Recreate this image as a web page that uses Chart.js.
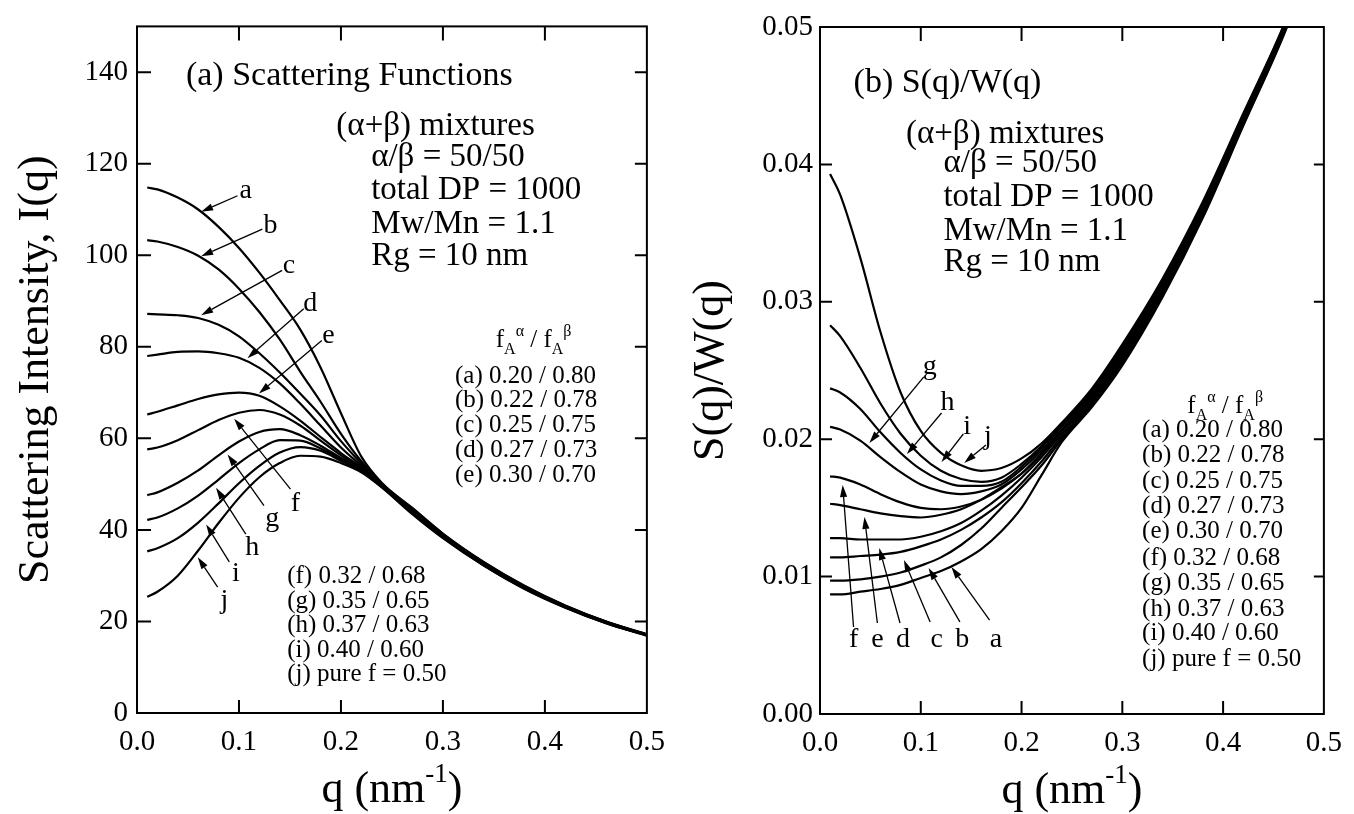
<!DOCTYPE html>
<html>
<head>
<meta charset="utf-8">
<script src="https://cdn.jsdelivr.net/npm/chart.js@4.4.1/dist/chart.umd.min.js"></script>
<style>
  html, body { margin: 0; padding: 0; background: #fff; }
  #wrap { position: relative; width: 1354px; height: 814px; }
  .panel { position: absolute; top: 0; width: 677px; height: 814px; }
</style>
</head>
<body>
<div id="wrap">
  <div class="panel" style="left:0"><canvas id="chartA"></canvas></div>
  <div class="panel" style="left:677px"><canvas id="chartB"></canvas></div>
</div>
<script>
// q grid shared by every curve (nm^-1)
const qValues = [0.01, 0.02, 0.04, 0.06, 0.08, 0.10, 0.12, 0.14, 0.16, 0.18, 0.20, 0.22, 0.24, 0.27, 0.30, 0.34, 0.38, 0.42, 0.46, 0.50];
const curveNames = ['a', 'b', 'c', 'd', 'e', 'f', 'g', 'h', 'i', 'j'];

// (a) scattering intensity I(q)
const iqA = [114.8, 114.4, 112.6, 110.0, 106.2, 101.6, 96.2, 90.2, 83.8, 75.5, 65.5, 56.0, 50.3, 44.8, 39.2, 33.0, 27.8, 23.5, 20.0, 17.2];
const iqB = [103.3, 103.0, 101.8, 99.9, 96.9, 92.7, 87.6, 81.6, 74.6, 68.0, 61.0, 55.0, 50.1, 44.65, 39.09, 32.91, 27.72, 23.44, 19.96, 17.17];
const iqC = [87.2, 87.1, 86.9, 86.3, 84.8, 82.3, 78.6, 74.4, 69.8, 65.0, 59.4, 54.5, 50.0, 44.5, 38.98, 32.82, 27.64, 23.39, 19.91, 17.13];
const iqD = [78.0, 78.3, 78.9, 79.0, 78.6, 77.6, 75.4, 72.0, 67.6, 62.8, 58.0, 54.0, 49.9, 44.35, 38.87, 32.73, 27.57, 23.33, 19.87, 17.1];
const iqE = [65.2, 65.8, 67.2, 68.6, 69.6, 70.0, 69.3, 67.0, 63.9, 60.3, 56.8, 53.6, 49.8, 44.2, 38.76, 32.64, 27.49, 23.28, 19.82, 17.07];
const iqF = [57.6, 58.0, 59.6, 61.8, 64.0, 65.6, 66.2, 65.2, 62.8, 59.5, 56.3, 53.4, 49.7, 44.05, 38.65, 32.55, 27.41, 23.22, 19.78, 17.03];
const iqG = [47.6, 48.2, 50.3, 53.0, 56.3, 59.3, 61.4, 62.0, 60.7, 58.4, 55.7, 53.2, 49.6, 43.9, 38.54, 32.46, 27.33, 23.17, 19.73, 17.0];
const iqH = [42.2, 42.7, 44.7, 47.5, 51.0, 54.6, 57.6, 59.6, 59.5, 57.8, 55.4, 53.0, 49.5, 43.75, 38.43, 32.37, 27.26, 23.11, 19.69, 16.97];
const iqI = [35.3, 36.0, 38.2, 41.6, 45.8, 50.2, 54.0, 56.9, 58.1, 57.3, 55.1, 52.8, 49.4, 43.6, 38.32, 32.28, 27.18, 23.06, 19.64, 16.93];
const iqJ = [25.4, 26.5, 30.0, 35.5, 41.5, 47.0, 51.5, 54.6, 56.2, 56.0, 54.6, 52.6, 49.3, 43.45, 38.2, 32.2, 27.1, 23.0, 19.6, 16.9];

// (b) S(q)/W(q)
const swA = [0.0087, 0.0087, 0.0089, 0.0091, 0.0094, 0.0099, 0.0104, 0.0111, 0.0120, 0.0133, 0.0150, 0.0174, 0.0198, 0.02235, 0.02537, 0.03035, 0.03613, 0.0428, 0.04938, 0.0570];
const swB = [0.0097, 0.0097, 0.0098, 0.0100, 0.0103, 0.0108, 0.0114, 0.0123, 0.0135, 0.0150, 0.0165, 0.0181, 0.0200, 0.0225, 0.02554, 0.0305, 0.03626, 0.0429, 0.04946, 0.0571];
const swC = [0.0114, 0.0114, 0.0115, 0.0116, 0.0118, 0.0122, 0.0127, 0.0134, 0.0143, 0.0154, 0.0168, 0.0184, 0.0202, 0.02265, 0.02571, 0.03065, 0.03639, 0.0430, 0.04954, 0.0572];
const swD = [0.0128, 0.0128, 0.0127, 0.0127, 0.0127, 0.0129, 0.0133, 0.0139, 0.0148, 0.0159, 0.0172, 0.0187, 0.0204, 0.0228, 0.02588, 0.0308, 0.03652, 0.0431, 0.04962, 0.0573];
const swE = [0.0153, 0.0152, 0.0149, 0.0146, 0.0144, 0.0143, 0.0145, 0.0149, 0.0156, 0.0165, 0.0175, 0.0189, 0.0206, 0.02295, 0.02605, 0.03095, 0.03665, 0.0432, 0.0497, 0.0574];
const swF = [0.0173, 0.0172, 0.0167, 0.0160, 0.0154, 0.0150, 0.0149, 0.0151, 0.0156, 0.0164, 0.0175, 0.0190, 0.0207, 0.0231, 0.02622, 0.0311, 0.03678, 0.0433, 0.04978, 0.0575];
const swG = [0.0209, 0.0207, 0.0199, 0.0187, 0.0176, 0.0167, 0.0162, 0.0160, 0.0162, 0.0167, 0.0178, 0.0192, 0.0209, 0.02325, 0.02639, 0.03125, 0.03691, 0.0434, 0.04986, 0.0576];
const swH = [0.0237, 0.0234, 0.0222, 0.0205, 0.0190, 0.0178, 0.0170, 0.0166, 0.0166, 0.0169, 0.0180, 0.0194, 0.0210, 0.0234, 0.02656, 0.0314, 0.03704, 0.0435, 0.04994, 0.0577];
const swI = [0.0283, 0.0275, 0.0252, 0.0226, 0.0204, 0.0188, 0.0177, 0.0171, 0.0169, 0.0172, 0.0182, 0.0195, 0.0211, 0.02355, 0.02673, 0.03155, 0.03717, 0.0436, 0.05002, 0.0578];
const swJ = [0.0393, 0.0378, 0.0332, 0.0278, 0.0234, 0.0206, 0.0190, 0.0181, 0.0177, 0.0179, 0.0186, 0.0197, 0.0212, 0.0237, 0.0269, 0.0317, 0.0373, 0.0437, 0.0501, 0.0579];

const infoLines = ['(α+β) mixtures', 'α/β = 50/50', 'total DP = 1000', 'Mw/Mn = 1.1', 'Rg = 10 nm'];
const mixLabels = ['(a) 0.20 / 0.80', '(b) 0.22 / 0.78', '(c) 0.25 / 0.75', '(d) 0.27 / 0.73', '(e) 0.30 / 0.70',
  '(f) 0.32 / 0.68', '(g) 0.35 / 0.65', '(h) 0.37 / 0.63', '(i) 0.40 / 0.60', '(j) pure f = 0.50'];

const SERIF = '"Liberation Serif", "Times New Roman", Times, serif';
const fracHeader = [{ t: 'f' }, { t: 'A', sub: true }, { t: 'α', sup: true }, { t: ' / f' }, { t: 'A', sub: true }, { t: 'β', sup: true }];
const qTitle = [{ t: 'q (nm' }, { t: '-1', sup: true }, { t: ')' }];

function fontFor(p, size) {
  return `${(p.sub || p.sup) ? Math.round(size * 0.62) : size}px ${SERIF}`;
}

function richWidth(ctx, parts, size) {
  let w = 0;
  parts.forEach((p) => { ctx.font = fontFor(p, size); w += ctx.measureText(p.t).width; });
  return w;
}

function drawRich(ctx, parts, x, y, size, align) {
  let cx = align === 'center' ? x - richWidth(ctx, parts, size) / 2 : x;
  ctx.textAlign = 'left';
  ctx.textBaseline = 'alphabetic';
  parts.forEach((p) => {
    ctx.font = fontFor(p, size);
    let dy = 0;
    if (p.sub) dy = size * 0.28;
    if (p.sup) dy = -size * 0.45;
    ctx.fillText(p.t, cx, y + dy);
    cx += ctx.measureText(p.t).width;
  });
}

function drawArrow(ctx, x1, y1, x2, y2) {
  const ang = Math.atan2(y2 - y1, x2 - x1);
  const len = 12;
  const half = 3.6;
  const bx = x2 - len * Math.cos(ang);
  const by = y2 - len * Math.sin(ang);
  ctx.beginPath();
  ctx.moveTo(x1, y1);
  ctx.lineTo(bx, by);
  ctx.stroke();
  ctx.beginPath();
  ctx.moveTo(x2, y2);
  ctx.lineTo(bx + half * Math.sin(ang), by - half * Math.cos(ang));
  ctx.lineTo(bx - half * Math.sin(ang), by + half * Math.cos(ang));
  ctx.closePath();
  ctx.fill();
}

// box round the plot with inward tick marks on all four sides
const frameTicks = {
  id: 'frameTicks',
  afterDatasetsDraw(chart, args, opts) {
    const { ctx, chartArea: area, scales: { x, y } } = chart;
    ctx.save();
    ctx.strokeStyle = '#000';
    ctx.lineWidth = 2;
    ctx.strokeRect(area.left, area.top, area.right - area.left, area.bottom - area.top);
    ctx.beginPath();
    x.ticks.forEach((t) => {
      const p = x.getPixelForValue(t.value);
      if (p <= area.left + 2 || p >= area.right - 2) return;
      ctx.moveTo(p, area.bottom);
      ctx.lineTo(p, area.bottom - opts.bottom);
      ctx.moveTo(p, area.top);
      ctx.lineTo(p, area.top + opts.top);
    });
    y.ticks.forEach((t) => {
      const p = y.getPixelForValue(t.value);
      if (p <= area.top + 2 || p >= area.bottom - 2) return;
      ctx.moveTo(area.left, p);
      ctx.lineTo(area.left + opts.left, p);
      ctx.moveTo(area.right, p);
      ctx.lineTo(area.right - opts.right, p);
    });
    ctx.stroke();
    ctx.restore();
  }
};

// texts, curve letters with arrows, axis titles
const notes = {
  id: 'notes',
  afterDraw(chart, args, opts) {
    const { ctx, chartArea: area, scales: { x, y } } = chart;
    const at = (q, v) => [x.getPixelForValue(q), y.getPixelForValue(v)];
    ctx.save();
    ctx.fillStyle = '#000';
    ctx.strokeStyle = '#000';

    opts.texts.forEach((t) => {
      const [tx, ty] = at(t.q, t.v);
      drawRich(ctx, typeof t.text === 'string' ? [{ t: t.text }] : t.text, tx, ty, t.size, t.align);
    });

    ctx.lineWidth = 1.3;
    opts.arrows.forEach((a) => {
      const [x1, y1] = at(a.from[0], a.from[1]);
      const [x2, y2] = at(a.to[0], a.to[1]);
      drawArrow(ctx, x1, y1, x2, y2);
      const [lx, ly] = at(a.label[0], a.label[1]);
      ctx.font = `28px ${SERIF}`;
      ctx.textAlign = 'center';
      ctx.textBaseline = 'middle';
      ctx.fillText(a.name, lx, ly);
    });

    drawRich(ctx, qTitle, (area.left + area.right) / 2, area.bottom + 89, 44, 'center');

    ctx.translate(opts.yTitleX, (area.top + area.bottom) / 2);
    ctx.rotate(-Math.PI / 2);
    ctx.font = `44px ${SERIF}`;
    ctx.textAlign = 'center';
    ctx.textBaseline = 'middle';
    ctx.fillText(opts.yTitle, 0, 0);
    ctx.restore();
  }
};

function buildSets(curves) {
  return curves.map((vals, k) => ({
    label: curveNames[k],
    data: vals.map((v, n) => ({ x: qValues[n], y: v })),
    borderColor: '#000',
    borderWidth: 2.2,
    pointRadius: 0,
    fill: false,
    cubicInterpolationMode: 'monotone',
    clip: 0
  }));
}

function panelOptions(cfg) {
  const tickFont = { family: SERIF, size: 29 };
  return {
    responsive: true,
    maintainAspectRatio: false,
    animation: false,
    events: [],
    layout: { padding: { left: 0, right: cfg.padRight, top: cfg.padTop, bottom: 0 } },
    plugins: {
      legend: { display: false },
      tooltip: { enabled: false },
      frameTicks: cfg.ticks,
      notes: cfg.notes
    },
    scales: {
      x: {
        type: 'linear',
        min: 0,
        max: 0.5,
        afterFit: (s) => { s.height = cfg.xHeight; },
        grid: { display: false, drawTicks: false },
        border: { display: false },
        ticks: {
          stepSize: 0.1,
          includeBounds: false,
          autoSkip: false,
          maxRotation: 0,
          padding: 12,
          color: '#000',
          font: tickFont,
          callback: (v) => v.toFixed(1)
        }
      },
      y: {
        type: 'linear',
        min: 0,
        max: cfg.yMax,
        afterFit: (s) => { s.width = cfg.yWidth; },
        grid: { display: false, drawTicks: false },
        border: { display: false },
        ticks: {
          stepSize: cfg.yStep,
          includeBounds: false,
          autoSkip: false,
          padding: cfg.yPad,
          color: '#000',
          font: tickFont,
          callback: cfg.yFormat
        }
      }
    }
  };
}

const leftNotes = {
  yTitle: 'Scattering Intensity, I(q)',
  yTitleX: 36,
  texts: [
    { text: '(a) Scattering Functions', q: 0.048, v: 137.2, size: 34 },
    { text: infoLines[0], q: 0.1955, v: 126.3, size: 33 },
    { text: infoLines[1], q: 0.2296, v: 119.6, size: 33 },
    { text: infoLines[2], q: 0.2296, v: 112.2, size: 33 },
    { text: infoLines[3], q: 0.2296, v: 104.8, size: 33 },
    { text: infoLines[4], q: 0.2296, v: 97.8, size: 33 },
    { text: fracHeader, q: 0.3518, v: 80, size: 25 },
    { text: mixLabels[0], q: 0.3118, v: 72.0, size: 25 },
    { text: mixLabels[1], q: 0.3118, v: 66.8, size: 25 },
    { text: mixLabels[2], q: 0.3118, v: 61.3, size: 25 },
    { text: mixLabels[3], q: 0.3118, v: 55.9, size: 25 },
    { text: mixLabels[4], q: 0.3118, v: 50.4, size: 25 },
    { text: mixLabels[5], q: 0.1473, v: 28.3, size: 25 },
    { text: mixLabels[6], q: 0.1473, v: 23.0, size: 25 },
    { text: mixLabels[7], q: 0.1473, v: 17.6, size: 25 },
    { text: mixLabels[8], q: 0.1473, v: 12.2, size: 25 },
    { text: mixLabels[9], q: 0.1473, v: 7.0, size: 25 }
  ],
  arrows: [
    { name: 'a', label: [0.1067, 114.1], from: [0.0986, 113.0], to: [0.0629, 109.5] },
    { name: 'b', label: [0.1310, 106.5], from: [0.1229, 105.7], to: [0.0629, 99.8] },
    { name: 'c', label: [0.1489, 97.8], from: [0.1423, 96.7], to: [0.0629, 86.9] },
    { name: 'd', label: [0.1700, 89.4], from: [0.1635, 88.3], to: [0.1083, 77.5] },
    { name: 'e', label: [0.1877, 82.5], from: [0.1812, 81.4], to: [0.1196, 69.8] },
    { name: 'f', label: [0.1553, 45.7], from: [0.1505, 48.9], to: [0.0953, 64.3] },
    { name: 'g', label: [0.1326, 42.4], from: [0.1245, 45.3], to: [0.0888, 56.5] },
    { name: 'h', label: [0.1131, 36.2], from: [0.1067, 39.1], to: [0.0775, 49.2] },
    { name: 'i', label: [0.0970, 30.4], from: [0.0905, 33.0], to: [0.0678, 41.2] },
    { name: 'j', label: [0.0856, 24.6], from: [0.0791, 27.5], to: [0.0596, 34.0] }
  ]
};

const rightNotes = {
  yTitle: 'S(q)/W(q)',
  yTitleX: 34,
  texts: [
    { text: '(b) S(q)/W(q)', q: 0.0333, v: 0.04527, size: 34 },
    { text: infoLines[0], q: 0.0853, v: 0.04156, size: 33 },
    { text: infoLines[1], q: 0.1225, v: 0.03945, size: 33 },
    { text: infoLines[2], q: 0.1225, v: 0.03697, size: 33 },
    { text: infoLines[3], q: 0.1225, v: 0.03450, size: 33 },
    { text: infoLines[4], q: 0.1225, v: 0.03224, size: 33 },
    { text: fracHeader, q: 0.3645, v: 0.0219, size: 25 },
    { text: mixLabels[0], q: 0.3196, v: 0.02016, size: 25 },
    { text: mixLabels[1], q: 0.3196, v: 0.01834, size: 25 },
    { text: mixLabels[2], q: 0.3196, v: 0.01645, size: 25 },
    { text: mixLabels[3], q: 0.3196, v: 0.01463, size: 25 },
    { text: mixLabels[4], q: 0.3196, v: 0.01281, size: 25 },
    { text: mixLabels[5], q: 0.3196, v: 0.01084, size: 25 },
    { text: mixLabels[6], q: 0.3196, v: 0.00902, size: 25 },
    { text: mixLabels[7], q: 0.3196, v: 0.00713, size: 25 },
    { text: mixLabels[8], q: 0.3196, v: 0.00539, size: 25 },
    { text: mixLabels[9], q: 0.3196, v: 0.00349, size: 25 }
  ],
  arrows: [
    { name: 'g', label: [0.1088, 0.02525], from: [0.1030, 0.02453], to: [0.0490, 0.01972] },
    { name: 'h', label: [0.1265, 0.02263], from: [0.1206, 0.02191], to: [0.0863, 0.01892] },
    { name: 'i', label: [0.1460, 0.02089], from: [0.1422, 0.02038], to: [0.1206, 0.01834] },
    { name: 'j', label: [0.1667, 0.02016], from: [0.1647, 0.01958], to: [0.1431, 0.01827] },
    { name: 'f', label: [0.0333, 0.00539], from: [0.0333, 0.00633], to: [0.0225, 0.01667] },
    { name: 'e', label: [0.0569, 0.00539], from: [0.0569, 0.00662], to: [0.0441, 0.01434] },
    { name: 'd', label: [0.0824, 0.00539], from: [0.0794, 0.00662], to: [0.0588, 0.01208] },
    { name: 'c', label: [0.1157, 0.00539], from: [0.1093, 0.00670], to: [0.0833, 0.01121] },
    { name: 'b', label: [0.1412, 0.00539], from: [0.1388, 0.00670], to: [0.1078, 0.01063] },
    { name: 'a', label: [0.1745, 0.00539], from: [0.1683, 0.00684], to: [0.1304, 0.01070] }
  ]
};

// eslint-disable-next-line no-new
new Chart(document.getElementById('chartA'), {
  type: 'line',
  data: { datasets: buildSets([iqA, iqB, iqC, iqD, iqE, iqF, iqG, iqH, iqI, iqJ]) },
  options: panelOptions({
    padRight: 26,
    padTop: 23,
    xHeight: 101,
    yWidth: 137,
    yMax: 150,
    yStep: 20,
    yPad: 9,
    yFormat: (v) => String(Math.round(v)),
    ticks: { left: 14, right: 12, top: 14, bottom: 13 },
    notes: leftNotes
  }),
  plugins: [frameTicks, notes]
});

// eslint-disable-next-line no-new
new Chart(document.getElementById('chartB'), {
  type: 'line',
  data: { datasets: buildSets([swA, swB, swC, swD, swE, swF, swG, swH, swI, swJ]) },
  options: panelOptions({
    padRight: 24,
    padTop: 27,
    xHeight: 100,
    yWidth: 143,
    yMax: 0.05,
    yStep: 0.01,
    yPad: 7,
    yFormat: (v) => v.toFixed(2),
    ticks: { left: 12, right: 10, top: 14, bottom: 13 },
    notes: rightNotes
  }),
  plugins: [frameTicks, notes]
});
</script>
</body>
</html>
